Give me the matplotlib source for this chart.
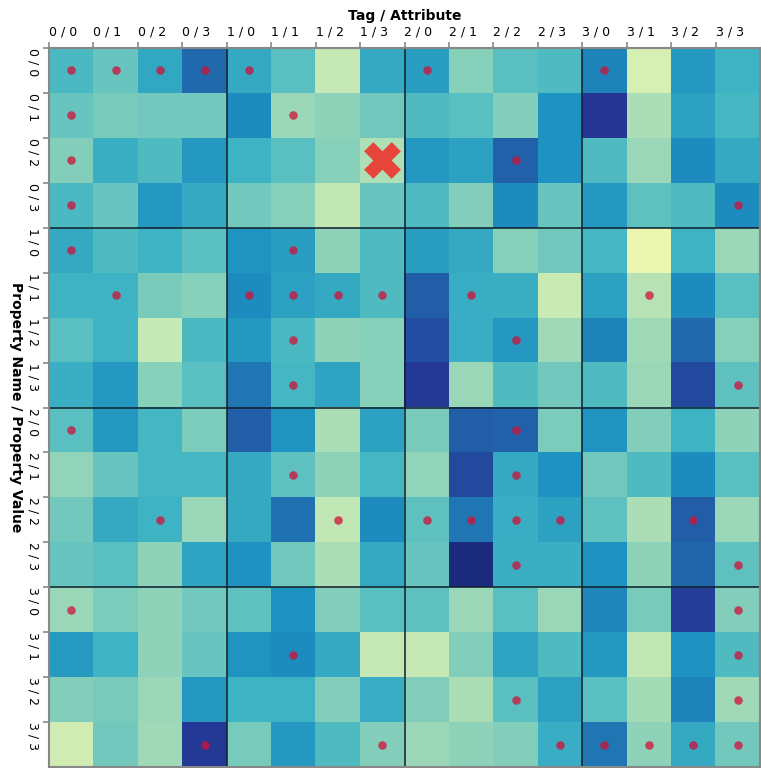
import numpy as np
import matplotlib
matplotlib.use("Agg")
import matplotlib.pyplot as plt

## Data

labels = ["0 / 0", "0 / 1", "0 / 2", "0 / 3", "1 / 0", "1 / 1", "1 / 2", "1 / 3",
          "2 / 0", "2 / 1", "2 / 2", "2 / 3", "3 / 0", "3 / 1", "3 / 2", "3 / 3"]

# cell intensity, rows = property name / value, cols = tag / attribute
values = [
    [0.48, 0.42, 0.55, 0.72, 0.54, 0.45, 0.25, 0.54, 0.58, 0.36, 0.45, 0.47, 0.66, 0.20, 0.60, 0.51],
    [0.42, 0.39, 0.40, 0.40, 0.64, 0.33, 0.35, 0.40, 0.47, 0.45, 0.37, 0.62, 0.87, 0.30, 0.57, 0.49],
    [0.37, 0.52, 0.47, 0.60, 0.51, 0.45, 0.36, 0.29, 0.60, 0.57, 0.74, 0.62, 0.47, 0.33, 0.64, 0.54],
    [0.48, 0.42, 0.60, 0.54, 0.40, 0.36, 0.26, 0.42, 0.47, 0.37, 0.64, 0.42, 0.60, 0.44, 0.47, 0.64],
    [0.54, 0.47, 0.51, 0.45, 0.61, 0.58, 0.35, 0.47, 0.58, 0.54, 0.36, 0.40, 0.49, 0.13, 0.51, 0.33],
    [0.51, 0.51, 0.39, 0.36, 0.64, 0.57, 0.54, 0.47, 0.75, 0.53, 0.52, 0.24, 0.57, 0.28, 0.64, 0.45],
    [0.45, 0.51, 0.25, 0.48, 0.60, 0.48, 0.35, 0.36, 0.80, 0.53, 0.60, 0.32, 0.66, 0.32, 0.72, 0.36],
    [0.52, 0.60, 0.36, 0.45, 0.69, 0.49, 0.56, 0.36, 0.86, 0.33, 0.47, 0.40, 0.47, 0.33, 0.81, 0.44],
    [0.45, 0.60, 0.49, 0.38, 0.75, 0.61, 0.30, 0.57, 0.39, 0.75, 0.74, 0.38, 0.61, 0.37, 0.51, 0.35],
    [0.34, 0.42, 0.49, 0.49, 0.54, 0.44, 0.35, 0.49, 0.34, 0.81, 0.54, 0.62, 0.40, 0.47, 0.64, 0.45],
    [0.40, 0.54, 0.51, 0.33, 0.54, 0.70, 0.26, 0.64, 0.44, 0.69, 0.53, 0.57, 0.44, 0.30, 0.75, 0.33],
    [0.42, 0.45, 0.35, 0.56, 0.62, 0.40, 0.30, 0.54, 0.42, 0.92, 0.52, 0.52, 0.62, 0.35, 0.73, 0.44],
    [0.33, 0.38, 0.35, 0.40, 0.44, 0.62, 0.37, 0.45, 0.44, 0.33, 0.45, 0.33, 0.65, 0.39, 0.84, 0.37],
    [0.59, 0.51, 0.35, 0.42, 0.61, 0.64, 0.54, 0.25, 0.25, 0.37, 0.56, 0.47, 0.60, 0.26, 0.62, 0.47],
    [0.37, 0.39, 0.33, 0.60, 0.51, 0.51, 0.37, 0.53, 0.37, 0.30, 0.45, 0.57, 0.45, 0.31, 0.66, 0.32],
    [0.22, 0.40, 0.32, 0.86, 0.39, 0.60, 0.47, 0.37, 0.33, 0.35, 0.37, 0.53, 0.69, 0.35, 0.54, 0.40],
]

# cells with a dot marker (row, col)
dot_rows = [0, 0, 0, 0, 0, 0, 0,
            1, 1, 2, 2, 3, 3, 4, 4,
            5, 5, 5, 5, 5, 5, 5,
            6, 6, 7, 7, 8, 8, 9, 9,
            10, 10, 10, 10, 10, 10, 10,
            11, 11, 12, 12, 13, 13, 14, 14,
            15, 15, 15, 15, 15, 15, 15]
dot_cols = [0, 1, 2, 3, 4, 8, 12,
            0, 5, 0, 10, 0, 15, 0, 5,
            1, 4, 5, 6, 7, 9, 13,
            5, 10, 5, 15, 0, 10, 5, 10,
            2, 6, 8, 9, 10, 11, 14,
            10, 15, 0, 15, 5, 15, 10, 15,
            3, 7, 11, 12, 13, 14, 15]

# the highlighted cell
cross_row, cross_col = 2, 7

## Plot

fig = plt.figure(figsize=(7.61, 7.68), dpi=100)
ax = fig.add_axes([49 / 761, 1 / 768, 711 / 761, 719 / 768])

n = len(labels)
ax.imshow(np.array(values), cmap="YlGnBu", vmin=0, vmax=1,
          extent=(0, n, n, 0), aspect="auto", interpolation="nearest")

ax.scatter(np.array(dot_cols) + 0.5, np.array(dot_rows) + 0.5,
           s=38, color="#d0103a", alpha=0.75, linewidths=0, zorder=3)
ax.scatter([cross_col + 0.5], [cross_row + 0.5], marker="X", s=700,
           color="#e8453a", linewidths=0, zorder=4)

# group separators
for k in (4, 8, 12):
    ax.axvline(k, color="#10202c", lw=1.4, alpha=0.8, zorder=2)
    ax.axhline(k, color="#10202c", lw=1.4, alpha=0.8, zorder=2)

ax.set_xlim(0, n)
ax.set_ylim(n, 0)

ax.xaxis.tick_top()
ax.xaxis.set_label_position("top")
ax.set_xticks(np.arange(n))
ax.set_xticklabels(labels, ha="left", fontsize=9)
ax.set_yticks(np.arange(n))
ax.set_yticklabels(labels, rotation=-90, va="top", fontsize=9)
ax.tick_params(colors="#888888", labelcolor="black", length=4, width=1.2, pad=2.5)

ax.set_xlabel("Tag / Attribute", fontweight="bold", fontsize=10, labelpad=4)
ax.set_ylabel("Property Name / Property Value", fontweight="bold", fontsize=10,
              rotation=270, labelpad=13, va="bottom")

for sp in ax.spines.values():
    sp.set_color("#888888")
    sp.set_linewidth(1.5)

fig.savefig("out.png", dpi=100)
